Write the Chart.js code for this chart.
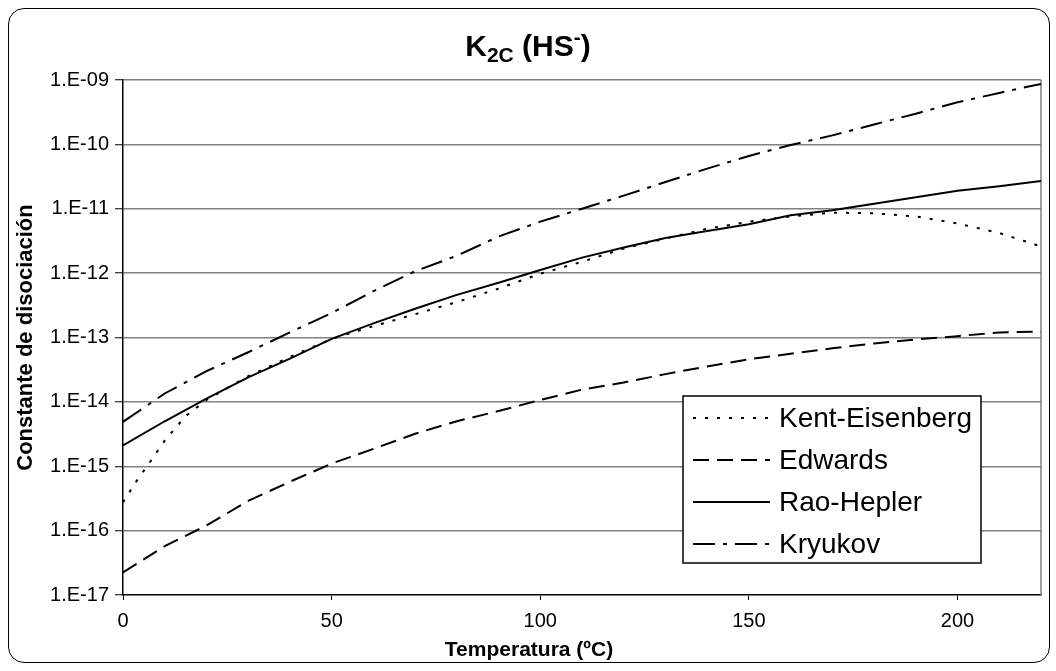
<!DOCTYPE html>
<html>
<head>
<meta charset="utf-8">
<script src="https://cdn.jsdelivr.net/npm/chart.js@4.4.1/dist/chart.umd.min.js"></script>
<style>
  html, body { margin: 0; padding: 0; background: #fff; }
  #wrap { position: relative; width: 1056px; height: 671px; }
  #frame {
    position: absolute; left: 8px; top: 8px; width: 1040px; height: 653px;
    border: 1px solid #000; border-radius: 16px; pointer-events: none;
  }
  #title {
    position: absolute; left: 0; top: 31px; width: 1056px; text-align: center;
    font: bold 30px "Liberation Sans", Arial, sans-serif; line-height: 30px; color: #000;
  }
  #title sub { font-size: 0.7em; vertical-align: -0.3em; line-height: 0; }
  #title sup { font-size: 0.7em; vertical-align: 0.55em; line-height: 0; }
  #xtitle {
    position: absolute; left: 0; top: 638px; width: 1058px; text-align: center;
    font: bold 21px "Liberation Sans", Arial, sans-serif; line-height: 21px; color: #000;
  }
</style>
</head>
<body>
<div id="wrap">
  <canvas id="chart" width="1056" height="671"></canvas>
  <div id="title">K<sub>2C</sub> (HS<sup>-</sup>)</div>
  <div id="xtitle">Temperatura (ºC)</div>
  <div id="frame"></div>
</div>
<script>
// temperatures (ºC)
const temps = [0, 10, 20, 30, 40, 50, 60, 70, 80, 90, 100, 110, 120, 130, 140, 150, 160, 170, 180, 190, 200, 210, 220];
const keTemps = [0, 3, 6, 10, 15, 20, 30, 40, 50, 60, 70, 80, 90, 100, 110, 120, 130, 140, 150, 160, 170, 180, 190, 200, 210, 220];

// dissociation constants
const kentEisenberg = [2.75e-16, 5.6e-16, 1.05e-15, 2.5e-15, 6.0e-15, 1.07e-14, 2.5e-14, 5.0e-14, 9.5e-14, 1.5e-13,
  2.3e-13, 3.55e-13, 5.75e-13, 9.8e-13, 1.5e-12, 2.4e-12, 3.45e-12, 4.9e-12, 6.3e-12, 7.6e-12,
  8.7e-12, 8.5e-12, 7.6e-12, 5.9e-12, 4.2e-12, 2.6e-12];
const edwards = [2.24e-17, 5.75e-17, 1.2e-16, 2.9e-16, 5.75e-16, 1.1e-15, 1.86e-15, 3.2e-15, 5.0e-15, 7.2e-15,
  1.07e-14, 1.55e-14, 2.0e-14, 2.7e-14, 3.55e-14, 4.6e-14, 5.6e-14, 6.8e-14, 8.1e-14, 9.3e-14,
  1.05e-13, 1.2e-13, 1.23e-13];
const raoHepler = [2.1e-15, 5.0e-15, 1.12e-14, 2.4e-14, 4.7e-14, 9.5e-14, 1.66e-13, 2.8e-13, 4.6e-13, 7.1e-13,
  1.12e-12, 1.74e-12, 2.5e-12, 3.5e-12, 4.5e-12, 5.75e-12, 7.9e-12, 9.5e-12, 1.2e-11, 1.51e-11,
  1.9e-11, 2.24e-11, 2.7e-11];
const kryukov = [4.9e-15, 1.35e-14, 3.0e-14, 5.9e-14, 1.2e-13, 2.4e-13, 5.25e-13, 1.07e-12, 1.86e-12, 3.7e-12,
  6.3e-12, 1.0e-11, 1.6e-11, 2.6e-11, 4.2e-11, 6.6e-11, 9.8e-11, 1.38e-10, 2.04e-10, 3.0e-10,
  4.5e-10, 6.3e-10, 8.7e-10];

const xTicks = [0, 50, 100, 150, 200];
const yTicks = [1e-17, 1e-16, 1e-15, 1e-14, 1e-13, 1e-12, 1e-11, 1e-10, 1e-9];
const yTickLabels = ['1.E-17', '1.E-16', '1.E-15', '1.E-14', '1.E-13', '1.E-12', '1.E-11', '1.E-10', '1.E-09'];

const FONT = '"Liberation Sans", Arial, sans-serif';

function toPoints(xs, ys) {
  return xs.map((x, i) => ({ x: x, y: ys[i] }));
}

function lineSet(label, xs, ys, dash) {
  return {
    label: label,
    data: toPoints(xs, ys),
    borderColor: '#000',
    backgroundColor: '#000',
    borderWidth: 2,
    borderDash: dash,
    pointRadius: 0,
    tension: 0,
    fill: false
  };
}

// gray plot-area border on the right side
const plotFrame = {
  id: 'plotFrame',
  beforeDatasetsDraw(chart) {
    const { ctx, chartArea } = chart;
    ctx.save();
    ctx.strokeStyle = '#808080';
    ctx.lineWidth = 1.5;
    ctx.beginPath();
    ctx.moveTo(chartArea.right, chartArea.top);
    ctx.lineTo(chartArea.right, chartArea.bottom);
    ctx.stroke();
    ctx.restore();
  }
};

// boxed legend inside the plot, lower right
const boxLegend = {
  id: 'boxLegend',
  afterDatasetsDraw(chart) {
    const ctx = chart.ctx;
    const x0 = 683, y0 = 396, w = 298, h = 167;
    ctx.save();
    ctx.fillStyle = '#fff';
    ctx.fillRect(x0, y0, w, h);
    ctx.strokeStyle = '#000';
    ctx.lineWidth = 1.5;
    ctx.strokeRect(x0, y0, w, h);
    ctx.font = '28px ' + FONT;
    ctx.textBaseline = 'middle';
    ctx.fillStyle = '#000';
    chart.data.datasets.forEach((ds, i) => {
      const y = 418 + i * 42;
      ctx.setLineDash(ds.borderDash || []);
      ctx.lineWidth = 2;
      ctx.beginPath();
      ctx.moveTo(693, y);
      ctx.lineTo(770, y);
      ctx.stroke();
      ctx.setLineDash([]);
      ctx.fillText(ds.label, 779, y + 1);
    });
    ctx.restore();
  }
};

new Chart(document.getElementById('chart'), {
  type: 'line',
  data: {
    datasets: [
      lineSet('Kent-Eisenberg', keTemps, kentEisenberg, [3, 9]),
      lineSet('Edwards', temps, edwards, [16, 8]),
      lineSet('Rao-Hepler', temps, raoHepler, []),
      lineSet('Kryukov', temps, kryukov, [22, 8, 4, 8])
    ]
  },
  options: {
    responsive: false,
    animation: false,
    devicePixelRatio: 1,
    layout: { padding: { top: 80, right: 15, bottom: 0, left: 0 } },
    plugins: {
      legend: { display: false },
      title: { display: false },
      tooltip: { enabled: false }
    },
    scales: {
      x: {
        type: 'linear',
        min: 0,
        max: 220,
        afterBuildTicks: s => { s.ticks = xTicks.map(v => ({ value: v })); },
        afterFit: s => { s.height = 76; },
        grid: { drawOnChartArea: false, drawTicks: true, tickLength: 5, color: '#000', tickColor: '#000' },
        border: { color: '#000', width: 1.5 },
        ticks: { color: '#000', font: { family: FONT, size: 20 }, padding: 9, maxRotation: 0, autoSkip: false },
        title: { display: false }
      },
      y: {
        type: 'logarithmic',
        min: 1e-17,
        max: 1e-9,
        afterBuildTicks: s => { s.ticks = yTicks.map(v => ({ value: v })); },
        afterFit: s => { s.width = 123; },
        grid: {
          color: c => (c.index === 0 ? 'rgba(0,0,0,0)' : '#808080'),
          lineWidth: 1.5,
          drawTicks: true,
          tickLength: 8,
          tickColor: '#000',
          tickWidth: 1
        },
        border: { color: '#000', width: 1.5 },
        ticks: {
          color: '#000',
          font: { family: FONT, size: 20 },
          padding: 6,
          autoSkip: false,
          callback: (v, i) => yTickLabels[i]
        },
        title: {
          display: true,
          text: 'Constante de disociación',
          color: '#000',
          font: { family: FONT, size: 22, weight: 'bold' },
          padding: { top: 13, bottom: 0 }
        }
      }
    }
  },
  plugins: [plotFrame, boxLegend]
});
</script>
</body>
</html>
